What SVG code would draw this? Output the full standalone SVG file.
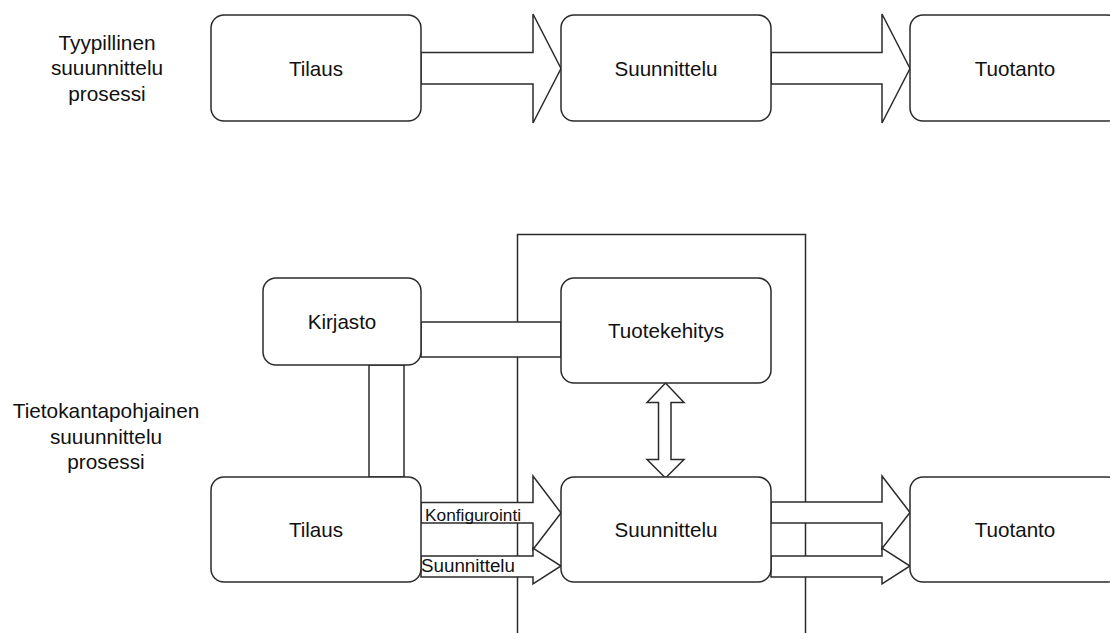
<svg xmlns="http://www.w3.org/2000/svg" width="1110" height="633" viewBox="0 0 1110 633">
<style>
  .bg { fill: #ffffff; }
  .node rect { fill: #ffffff; stroke: #2b2b2b; stroke-width: 1.5; }
  .conn { fill: #ffffff; stroke: #2b2b2b; stroke-width: 1.5; stroke-linejoin: miter; }
  .frame { fill: none; stroke: #2b2b2b; stroke-width: 1.5; }
  text { font-family: "Liberation Sans", Arial, Helvetica, sans-serif; fill: #111111; }
  .t { font-size: 20.6px; text-anchor: middle; }
  .lab { font-size: 20.8px; text-anchor: middle; }
  .cl { text-anchor: start; }
</style>
<rect class="bg" x="0" y="0" width="1110" height="633"/>

<g id="side-labels">
  <text class="lab" x="107" y="49.5">Tyypillinen</text>
  <text class="lab" x="107" y="75">suuunnittelu</text>
  <text class="lab" x="107" y="100.5">prosessi</text>
  <text class="lab" x="106" y="418">Tietokantapohjainen</text>
  <text class="lab" x="106" y="443.5">suuunnittelu</text>
  <text class="lab" x="106" y="469">prosessi</text>
</g>

<g id="frame">
  <rect class="frame" x="517.5" y="234.5" width="288" height="430"/>
</g>

<g id="connectors">
  <polygon class="conn" points="421,52.5 533,52.5 533,14 561,68.5 533,123 533,84 421,84"/>
  <polygon class="conn" points="771,52.5 882,52.5 882,14 910,68.5 882,123 882,84 771,84"/>
  <rect class="conn" x="421" y="322" width="140" height="35"/>
  <rect class="conn" x="369" y="365" width="35" height="112"/>
  <polygon class="conn" points="665.5,383 684,402.5 671,402.5 671,459.5 684,459.5 665.5,478 647,459.5 658.5,459.5 658.5,402.5 647,402.5"/>
  <polygon class="conn" points="421,502.5 533,502.5 533,476 561,513 533,549.5 533,523 421,523"/>
  <polygon class="conn" points="421,556 533,556 533,548 561,566 533,584 533,577 421,577"/>
  <polygon class="conn" points="771,502 882,502 882,476 910,512.5 882,548.5 882,523 771,523"/>
  <polygon class="conn" points="771,556 882,556 882,548 910,566 882,584 882,577 771,577"/>
  <text class="cl" x="425" y="520.5" font-size="17.3">Konfigurointi</text>
  <text class="cl" x="421" y="572" font-size="18.8">Suunnittelu</text>
</g>

<g id="tilaus-top" class="node">
  <rect x="211" y="15" width="210" height="106" rx="13"/>
  <text class="t" x="316" y="75.5">Tilaus</text>
</g>
<g id="suunnittelu-top" class="node">
  <rect x="561" y="15" width="210" height="106" rx="13"/>
  <text class="t" x="666" y="75.5">Suunnittelu</text>
</g>
<g id="tuotanto-top" class="node">
  <rect x="910" y="15" width="210" height="106" rx="13"/>
  <text class="t" x="1015" y="75.5">Tuotanto</text>
</g>

<g id="kirjasto" class="node">
  <rect x="263" y="278" width="158" height="87" rx="13"/>
  <text class="t" x="342" y="329">Kirjasto</text>
</g>
<g id="tuotekehitys" class="node">
  <rect x="561" y="278" width="210" height="105" rx="13"/>
  <text class="t" x="666" y="338">Tuotekehitys</text>
</g>

<g id="tilaus-bottom" class="node">
  <rect x="211" y="477" width="210" height="105" rx="13"/>
  <text class="t" x="316" y="537">Tilaus</text>
</g>
<g id="suunnittelu-bottom" class="node">
  <rect x="561" y="477" width="210" height="105" rx="13"/>
  <text class="t" x="666" y="537">Suunnittelu</text>
</g>
<g id="tuotanto-bottom" class="node">
  <rect x="910" y="477" width="210" height="105" rx="13"/>
  <text class="t" x="1015" y="537">Tuotanto</text>
</g>
</svg>
